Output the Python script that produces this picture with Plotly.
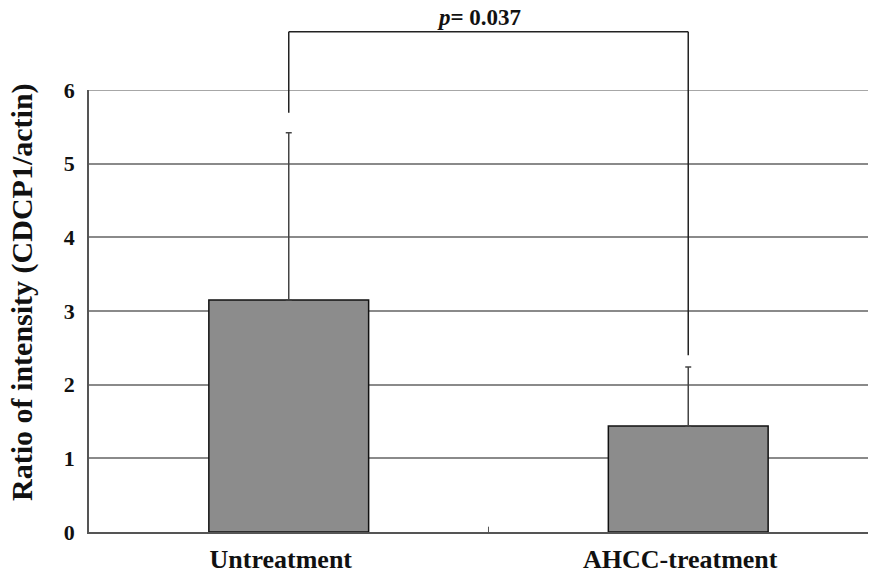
import plotly.graph_objects as go

categories = ["Untreatment", "AHCC-treatment"]
means = [3.15, 1.44]
errors_up = [2.27, 0.80]
y_ticks = [0, 1, 2, 3, 4, 5, 6]
bracket_top = 6.79
bracket_left_bottom = 5.69
bracket_right_bottom = 2.40
y_max = 6

FONT = "Liberation Serif, Times New Roman, serif"
INK = "#111111"

# page body has an 8px margin; size the figure so it fits the window exactly
OFF = 8
L, T, B_SCREEN, R_SCREEN = 89, 90, 532, 876
W, H = 876 - OFF, 571 - OFF
PLOT_W = R_SCREEN - L

fig = go.Figure()
fig.add_trace(go.Bar(
    x=[0, 1], y=means, width=0.4,
    marker=dict(color="#8c8c8c", line=dict(color="#111111", width=1.5)),
    error_y=dict(type="data", symmetric=False, array=errors_up,
                 arrayminus=[0, 0], color="#444444", thickness=1.5, width=3),
    showlegend=False,
))

def py(v):
    return v / y_max

line = dict(color="#222222", width=1.5)
fig.add_shape(type="line", xref="x", yref="paper", x0=0, x1=0,
              y0=py(bracket_left_bottom), y1=py(bracket_top), line=line)
fig.add_shape(type="line", xref="x", yref="paper", x0=0, x1=1,
              y0=py(bracket_top), y1=py(bracket_top), line=line)
fig.add_shape(type="line", xref="x", yref="paper", x0=1, x1=1,
              y0=py(bracket_right_bottom), y1=py(bracket_top), line=line)
fig.add_annotation(x=0.475, xref="x", y=py(bracket_top), yref="paper",
                   text="<b><i>p</i>= 0.037</b>",
                   showarrow=False, yanchor="bottom", yshift=0,
                   font=dict(family=FONT, size=23, color=INK))
# top gridline at 6
fig.add_shape(type="line", xref="paper", yref="y", x0=0, x1=1, y0=y_max, y1=y_max,
              line=dict(color="#8a8a8a", width=1.5), layer="below")
# category boundary tick
fig.add_shape(type="line", xref="x", yref="paper", x0=0.5, x1=0.5, y0=0, y1=0.012,
              line=dict(color="#555555", width=1))
# y-axis title
fig.add_annotation(x=-67 / PLOT_W, xref="paper", y=0.541, yref="paper",
                   text="<b>Ratio of intensity (CDCP1/actin)</b>", textangle=-90,
                   showarrow=False, xanchor="center", yanchor="middle",
                   font=dict(family=FONT, size=30, color=INK))

fig.update_layout(
    width=W, height=H,
    margin=dict(l=L - OFF, r=(W + OFF) - R_SCREEN, t=T - OFF, b=(H + OFF) - B_SCREEN,
                autoexpand=False),
    plot_bgcolor="white", paper_bgcolor="white",
)
fig.update_xaxes(
    range=[-0.5, 1.47], tickmode="array", tickvals=[-0.02, 0.98],
    ticktext=[f"<b>{c}</b>" for c in categories],
    showline=True, linecolor="#555555", linewidth=1.5,
    ticks="", showgrid=False, zeroline=False, automargin=False,
    tickfont=dict(family=FONT, size=26, color=INK),
    ticklabelstandoff=3,
)
fig.update_yaxes(
    range=[0, y_max], tickmode="array", tickvals=y_ticks,
    ticktext=[f"<b>{t}</b>" for t in y_ticks],
    showline=True, linecolor="#555555", linewidth=1.5,
    showgrid=True, gridcolor="#8a8a8a", gridwidth=1.5, zeroline=False,
    ticks="", automargin=False, ticklabelstandoff=8,
    tickfont=dict(family=FONT, size=22, color=INK),
)

fig.write_html("out.html")
